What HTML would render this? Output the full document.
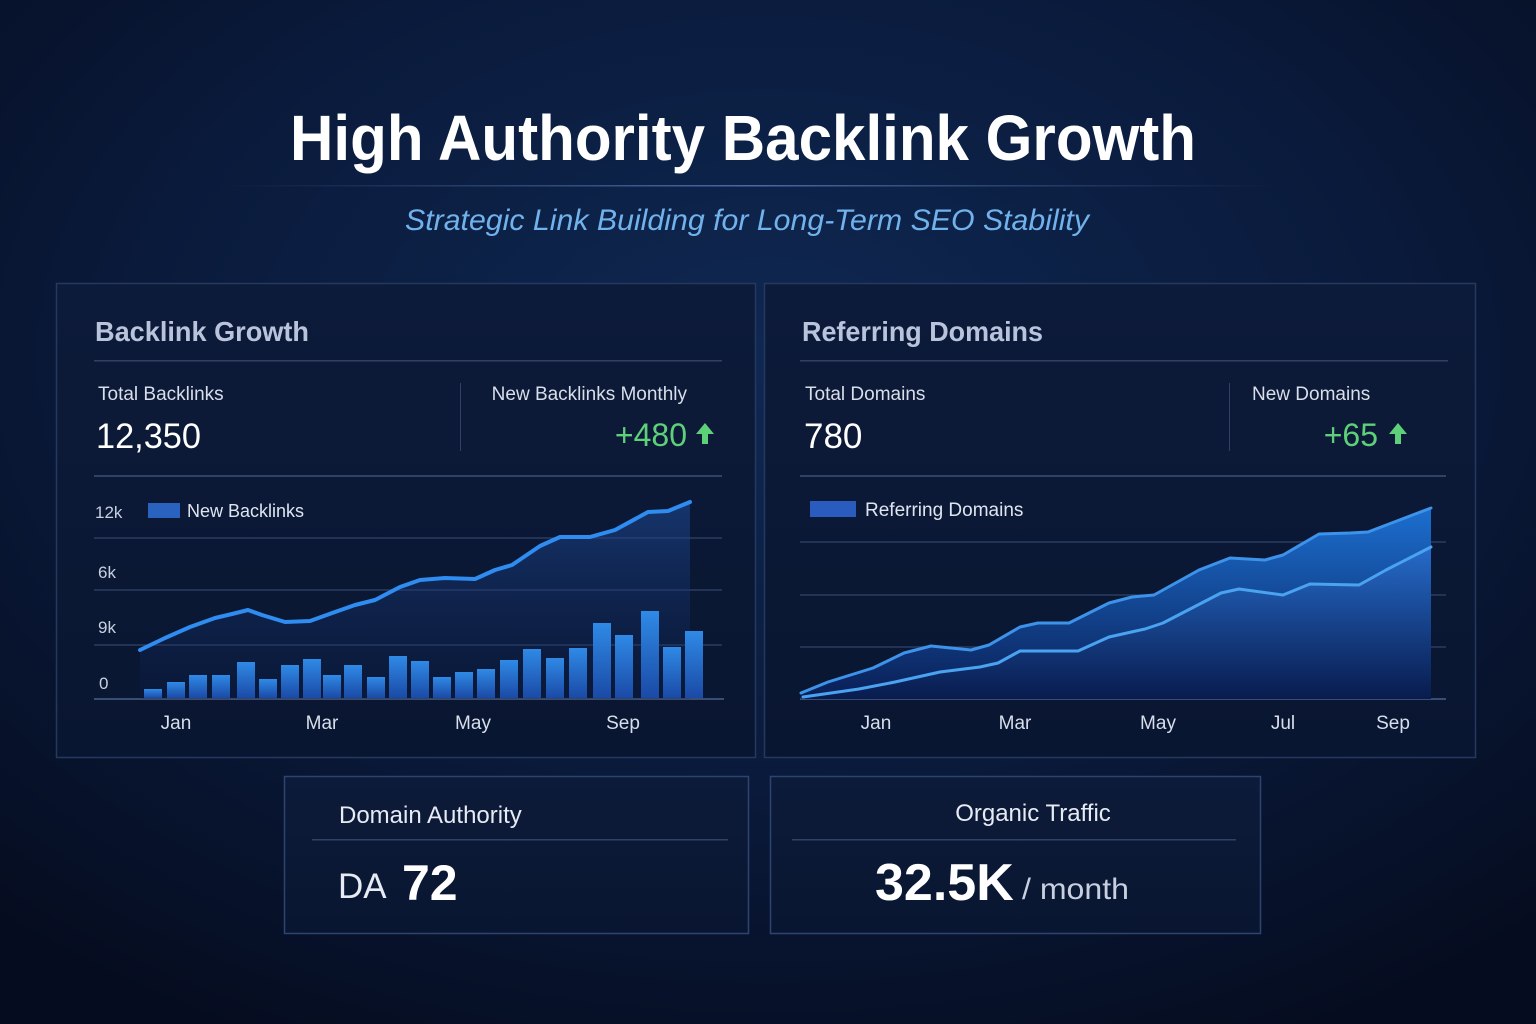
<!DOCTYPE html>
<html><head><meta charset="utf-8"><style>
html,body{margin:0;padding:0;background:#081330;}
svg{display:block}
text{font-family:"Liberation Sans","DejaVu Sans",sans-serif;}
</style></head><body>
<svg width="1536" height="1024" viewBox="0 0 1536 1024" xmlns="http://www.w3.org/2000/svg">
<defs>
<radialGradient id="bg" cx="50%" cy="35%" r="75%">
<stop offset="0" stop-color="#0f2852"/><stop offset="0.55" stop-color="#0a1a3b"/><stop offset="1" stop-color="#050c1f"/>
</radialGradient>
<linearGradient id="panel" x1="0" y1="0" x2="0" y2="1">
<stop offset="0" stop-color="#0d1b3a"/><stop offset="1" stop-color="#091631"/>
</linearGradient>
<linearGradient id="bar" x1="0" y1="0" x2="0" y2="1">
<stop offset="0" stop-color="#2f8ae6"/><stop offset="1" stop-color="#1a4aa6"/>
</linearGradient>
<linearGradient id="areaL" x1="0" y1="0" x2="0" y2="1">
<stop offset="0" stop-color="#1f4c9a" stop-opacity="0.55"/><stop offset="1" stop-color="#0d2050" stop-opacity="0.2"/>
</linearGradient>
<linearGradient id="areaR1" x1="0" y1="0" x2="0" y2="1">
<stop offset="0" stop-color="#1c6fd0"/><stop offset="1" stop-color="#0a1e55"/>
</linearGradient>
<linearGradient id="areaR2" x1="0" y1="0" x2="0" y2="1">
<stop offset="0" stop-color="#2a6fd0" stop-opacity="0.8"/><stop offset="1" stop-color="#081a4a" stop-opacity="0.6"/>
</linearGradient>
<linearGradient id="hr" x1="0" x2="1">
<stop offset="0" stop-color="#3a5a90" stop-opacity="0"/><stop offset="0.5" stop-color="#4a6aa0"/><stop offset="1" stop-color="#3a5a90" stop-opacity="0"/>
</linearGradient>
</defs>
<rect width="1536" height="1024" fill="url(#bg)"/>

<text x="743" y="160" text-anchor="middle" font-size="64" font-weight="bold" fill="#ffffff" textLength="906" lengthAdjust="spacingAndGlyphs">High Authority Backlink Growth</text>
<rect x="220" y="185" width="1060" height="1.5" fill="url(#hr)"/>
<text x="747" y="230" text-anchor="middle" font-size="30" font-style="italic" fill="#72b2ec" textLength="684" lengthAdjust="spacingAndGlyphs">Strategic Link Building for Long-Term SEO Stability</text>

<!-- Left panel -->
<rect x="56.5" y="283.5" width="699" height="474" fill="url(#panel)" stroke="#24395f" stroke-width="1.5"/>
<text x="95" y="341" font-size="28" font-weight="bold" fill="#b9c4dc" textLength="214" lengthAdjust="spacingAndGlyphs">Backlink Growth</text>
<rect x="94" y="360" width="628" height="1.5" fill="#2e4266"/>
<text x="98" y="400" font-size="19" fill="#d8deea">Total Backlinks</text>
<text x="96" y="448" font-size="35" fill="#ffffff" textLength="105" lengthAdjust="spacingAndGlyphs">12,350</text>
<rect x="460" y="383" width="1" height="68" fill="#2e4266"/>
<text x="687" y="400" font-size="19" fill="#d8deea" text-anchor="end">New Backlinks Monthly</text>
<text x="687" y="446" font-size="32" fill="#5fd07a" text-anchor="end">+480</text>
<path d="M705 423 l-9 11 h6 v10 h6 v-10 h6 z" fill="#5fd07a"/>
<rect x="94" y="475" width="628" height="2" fill="#2e4266"/>

<g stroke="#2a3c60" stroke-width="1.5">
<line x1="94" y1="538" x2="722" y2="538"/><line x1="94" y1="590" x2="722" y2="590"/><line x1="94" y1="645" x2="722" y2="645"/><line x1="94" y1="699" x2="724" y2="699" stroke="#3a4e74" stroke-width="2"/>
</g>
<g font-size="17" fill="#c8d0e0">
<text x="95" y="518">12k</text><text x="98" y="578">6k</text><text x="98" y="633">9k</text><text x="99" y="689">0</text>
</g>
<rect x="148" y="503" width="32" height="15" fill="#2a62c0"/>
<text x="187" y="517" font-size="18" fill="#dfe5f0">New Backlinks</text>

<path d="M140 650 L165 638 L190 627 L215 618 L232 614 L248 610 L262 615 L285 622 L310 621 L335 612 L355 605 L375 600 L400 587 L420 580 L445 578 L475 579 L495 570 L512 565 L540 546 L560 537 L590 537 L615 530 L648 512 L668 511 L690 502 L690 699 L140 699 Z" fill="url(#areaL)"/>
<g fill="url(#bar)">
<rect x="144" y="689" width="18" height="9"/><rect x="167" y="682" width="18" height="16"/><rect x="189" y="675" width="18" height="23"/><rect x="212" y="675" width="18" height="23"/><rect x="237" y="662" width="18" height="36"/><rect x="259" y="679" width="18" height="19"/><rect x="281" y="665" width="18" height="33"/><rect x="303" y="659" width="18" height="39"/><rect x="323" y="675" width="18" height="23"/><rect x="344" y="665" width="18" height="33"/><rect x="367" y="677" width="18" height="21"/><rect x="389" y="656" width="18" height="42"/><rect x="411" y="661" width="18" height="37"/><rect x="433" y="677" width="18" height="21"/><rect x="455" y="672" width="18" height="26"/><rect x="477" y="669" width="18" height="29"/><rect x="500" y="660" width="18" height="38"/><rect x="523" y="649" width="18" height="49"/><rect x="546" y="658" width="18" height="40"/><rect x="569" y="648" width="18" height="50"/><rect x="593" y="623" width="18" height="75"/><rect x="615" y="635" width="18" height="63"/><rect x="641" y="611" width="18" height="87"/><rect x="663" y="647" width="18" height="51"/><rect x="685" y="631" width="18" height="67"/>
</g>
<polyline points="140,650 165,638 190,627 215,618 232,614 248,610 262,615 285,622 310,621 335,612 355,605 375,600 400,587 420,580 445,578 475,579 495,570 512,565 540,546 560,537 590,537 615,530 648,512 668,511 690,502" fill="none" stroke="#2f8cf0" stroke-width="4" stroke-linejoin="round" stroke-linecap="round"/>
<g font-size="19" fill="#d8deea" text-anchor="middle">
<text x="176" y="729">Jan</text><text x="322" y="729">Mar</text><text x="473" y="729">May</text><text x="623" y="729">Sep</text>
</g>

<!-- Right panel -->
<rect x="764.5" y="283.5" width="711" height="474" fill="url(#panel)" stroke="#24395f" stroke-width="1.5"/>
<text x="802" y="341" font-size="28" font-weight="bold" fill="#b9c4dc" textLength="241" lengthAdjust="spacingAndGlyphs">Referring Domains</text>
<rect x="800" y="360" width="648" height="1.5" fill="#2e4266"/>
<text x="805" y="400" font-size="19" fill="#d8deea">Total Domains</text>
<text x="804" y="448" font-size="35" fill="#ffffff">780</text>
<rect x="1229" y="383" width="1" height="68" fill="#2e4266"/>
<text x="1252" y="400" font-size="19" fill="#d8deea">New Domains</text>
<text x="1378" y="446" font-size="32" fill="#5fd07a" text-anchor="end">+65</text>
<path d="M1398 423 l-9 11 h6 v10 h6 v-10 h6 z" fill="#5fd07a"/>
<rect x="800" y="475" width="646" height="2" fill="#2e4266"/>

<g stroke="#2a3c60" stroke-width="1.5">
<line x1="800" y1="542" x2="1446" y2="542"/><line x1="800" y1="595" x2="1446" y2="595"/><line x1="800" y1="647" x2="1446" y2="647"/><line x1="800" y1="699" x2="1446" y2="699" stroke="#3a4e74" stroke-width="2"/>
</g>
<rect x="810" y="501" width="46" height="16" fill="#2a5cc0"/>
<text x="865" y="516" font-size="19" fill="#dfe5f0">Referring Domains</text>

<path d="M801 693 L828 682 L873 668 L904 653 L931 646 L971 650 L989 645 L1020 627 L1038 623 L1069 623 L1109 603 L1132 597 L1154 595 L1199 570 L1230 558 L1265 560 L1283 555 L1319 534 L1350 533 L1368 532 L1431 508 L1431 699 L801 699 Z" fill="url(#areaR1)"/>
<path d="M803 697 L859 689 L895 682 L940 672 L980 667 L998 663 L1020 651 L1078 651 L1109 637 L1145 629 L1163 623 L1221 593 L1239 589 L1283 595 L1310 584 L1359 585 L1386 570 L1431 547 L1431 699 L803 699 Z" fill="url(#areaR2)"/>
<polyline points="801,693 828,682 873,668 904,653 931,646 971,650 989,645 1020,627 1038,623 1069,623 1109,603 1132,597 1154,595 1199,570 1230,558 1265,560 1283,555 1319,534 1350,533 1368,532 1431,508" fill="none" stroke="#3d93ea" stroke-width="3" stroke-linejoin="round" stroke-linecap="round"/>
<polyline points="803,697 859,689 895,682 940,672 980,667 998,663 1020,651 1078,651 1109,637 1145,629 1163,623 1221,593 1239,589 1283,595 1310,584 1359,585 1386,570 1431,547" fill="none" stroke="#4aa3f0" stroke-width="3" stroke-linejoin="round" stroke-linecap="round"/>
<g font-size="19" fill="#d8deea" text-anchor="middle">
<text x="876" y="729">Jan</text><text x="1015" y="729">Mar</text><text x="1158" y="729">May</text><text x="1283" y="729">Jul</text><text x="1393" y="729">Sep</text>
</g>

<!-- Bottom cards -->
<rect x="284.5" y="776.5" width="464" height="157" fill="url(#panel)" stroke="#2e4470" stroke-width="1.5"/>
<text x="339" y="823" font-size="24" fill="#e6ebf4">Domain Authority</text>
<rect x="312" y="839" width="416" height="1.5" fill="#2e4266"/>
<text x="338" y="898" font-size="35" fill="#e6ebf4">DA</text>
<text x="402" y="900" font-size="50" font-weight="bold" fill="#ffffff">72</text>

<rect x="770.5" y="776.5" width="490" height="157" fill="url(#panel)" stroke="#2e4470" stroke-width="1.5"/>
<text x="1033" y="821" font-size="24" fill="#e6ebf4" text-anchor="middle">Organic Traffic</text>
<rect x="792" y="839" width="444" height="1.5" fill="#2e4266"/>
<text x="875" y="900" font-size="52" font-weight="bold" fill="#ffffff">32.5K</text>
<text x="1022" y="899" font-size="30" fill="#c8d0e0" textLength="107" lengthAdjust="spacingAndGlyphs">/ month</text>
</svg>
</body></html>
